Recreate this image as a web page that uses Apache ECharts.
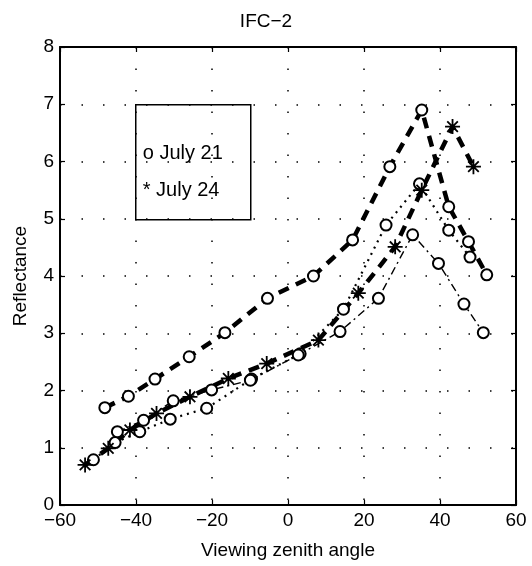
<!DOCTYPE html>
<html>
<head>
<meta charset="utf-8">
<script src="https://cdn.jsdelivr.net/npm/echarts@6/dist/echarts.min.js"></script>
<style>
  html, body { margin: 0; padding: 0; background: #fff; }
  #chart { width: 532px; height: 566px; }
</style>
</head>
<body>
<div id="chart"></div>
<script>
// values
const xTicks = [-60, -40, -20, 0, 20, 40, 60]
const yTicks = [0, 1, 2, 3, 4, 5, 6, 7, 8]

// July 21, thick dashed
const dashX21 = [-48.2, -42.0, -35.0, -26.0, -16.6, -5.4, 6.7, 17.0, 26.8, 35.2, 42.3, 47.5, 52.3]
const dashY21 = [1.70, 1.90, 2.20, 2.59, 3.01, 3.61, 4.00, 4.63, 5.91, 6.90, 5.21, 4.60, 4.02]
// July 24, thick dashed
const dashX24 = [-53.4, -47.3, -41.6, -34.6, -25.8, -15.7, -5.6, 8.0, 18.5, 28.2, 35.2, 43.3, 48.8]
const dashY24 = [0.70, 0.99, 1.31, 1.60, 1.89, 2.21, 2.47, 2.88, 3.70, 4.51, 5.50, 6.61, 5.91]
// July 21, dotted
const dotX21 = [-51.2, -45.5, -39.0, -31.0, -21.4, -9.6, 3.2, 14.6, 25.8, 34.6, 42.3, 47.9]
const dotY21 = [0.79, 1.09, 1.28, 1.50, 1.69, 2.20, 2.64, 3.42, 4.89, 5.61, 4.80, 4.33]
// July 21, dash-dot
const dashDotX21 = [-44.9, -38.0, -30.2, -20.1, -9.9, 2.7, 13.7, 23.8, 32.8, 39.6, 46.3, 51.4]
const dashDotY21 = [1.28, 1.48, 1.82, 2.01, 2.18, 2.62, 3.03, 3.61, 4.72, 4.22, 3.51, 3.01]

const zip = (xs, ys) => xs.map((x, i) => [x, ys[i]])

// asterisk marker (MATLAB '*')
const starPath = 'path://M-10,-1.2 L10,-1.2 L10,1.2 L-10,1.2 Z ' +
  'M-1.2,-10 L1.2,-10 L1.2,10 L-1.2,10 Z ' +
  'M-7.92,-6.22 L-6.22,-7.92 L7.92,6.22 L6.22,7.92 Z ' +
  'M7.92,-6.22 L-6.22,7.92 L-7.92,6.22 L6.22,-7.92 Z'

const font = 'Liberation Sans'
const minus = (v) => String(v).replace('-', '\u2212')

const circleSeries = (data, lineType, width) => ({
  type: 'line',
  data: data,
  symbol: 'circle',
  symbolSize: 11,
  itemStyle: { color: '#fff', borderColor: '#000', borderWidth: 2 },
  lineStyle: { color: '#000', width: width, type: lineType },
  animation: false
})

const chart = echarts.init(document.getElementById('chart'))
chart.setOption({
  backgroundColor: '#fff',
  title: {
    text: 'IFC\u22122',
    left: 'center',
    top: 7,
    textStyle: { fontFamily: font, fontSize: 19, fontWeight: 'normal', color: '#000' }
  },
  grid: { left: 60, right: 16, top: 47, bottom: 61 },
  xAxis: [{
    type: 'value',
    min: -60, max: 60, interval: 20,
    name: 'Viewing zenith angle',
    nameLocation: 'middle',
    nameGap: 36,
    nameTextStyle: { fontFamily: font, fontSize: 19, color: '#000' },
    axisLine: { onZero: false, lineStyle: { color: '#000', width: 2 } },
    axisTick: { inside: true, length: 5, lineStyle: { color: '#000', width: 1.2 } },
    axisLabel: { fontFamily: font, fontSize: 19, color: '#000', margin: 6, formatter: minus },
    splitLine: { show: true, lineStyle: { color: '#000', width: 1.5, type: [1.5, 20] } }
  }, {
    type: 'value', position: 'top',
    min: -60, max: 60, interval: 20,
    axisLine: { onZero: false, lineStyle: { color: '#000', width: 2 } },
    axisTick: { inside: true, length: 5, lineStyle: { color: '#000', width: 1.2 } },
    axisLabel: { show: false },
    splitLine: { show: false }
  }],
  yAxis: [{
    type: 'value',
    min: 0, max: 8, interval: 1,
    name: 'Reflectance',
    nameLocation: 'middle',
    nameGap: 30,
    nameTextStyle: { fontFamily: font, fontSize: 19, color: '#000' },
    axisLine: { show: true, onZero: false, lineStyle: { color: '#000', width: 2 } },
    axisTick: { show: true, inside: true, length: 5, lineStyle: { color: '#000', width: 1.2 } },
    axisLabel: { fontFamily: font, fontSize: 19, color: '#000', margin: 6 },
    splitLine: { show: true, lineStyle: { color: '#000', width: 1.5, type: [1.5, 20] } }
  }, {
    type: 'value', position: 'right',
    min: 0, max: 8, interval: 1,
    axisLine: { show: true, onZero: false, lineStyle: { color: '#000', width: 2 } },
    axisTick: { show: true, inside: true, length: 5, lineStyle: { color: '#000', width: 1.2 } },
    axisLabel: { show: false },
    splitLine: { show: false }
  }],
  series: [
    circleSeries(zip(dotX21, dotY21), [2, 5], 2.2),
    circleSeries(zip(dashDotX21, dashDotY21), [8, 4, 2, 4], 1.4),
    circleSeries(zip(dashX21, dashY21), [11, 8], 4.5),
    {
      type: 'line',
      data: zip(dashX24, dashY24),
      symbol: starPath,
      symbolSize: 15,
      itemStyle: { color: '#000' },
      lineStyle: { color: '#000', width: 4.5, type: [11, 8] },
      animation: false
    }
  ],
  graphic: [{
    type: 'group',
    left: 135,
    top: 104,
    children: [
      { type: 'rect', shape: { x: 0, y: 0, width: 115, height: 115 },
        style: { fill: '#fff', stroke: '#000', lineWidth: 1.5 } },
      { type: 'text', x: 7, y: 49,
        style: { text: 'o July 21', font: '20px "Liberation Sans"', fill: '#000', verticalAlign: 'middle' } },
      { type: 'text', x: 7, y: 86,
        style: { text: '* July 24', font: '20px "Liberation Sans"', fill: '#000', verticalAlign: 'middle' } }
    ]
  }]
})
</script>
</body>
</html>
